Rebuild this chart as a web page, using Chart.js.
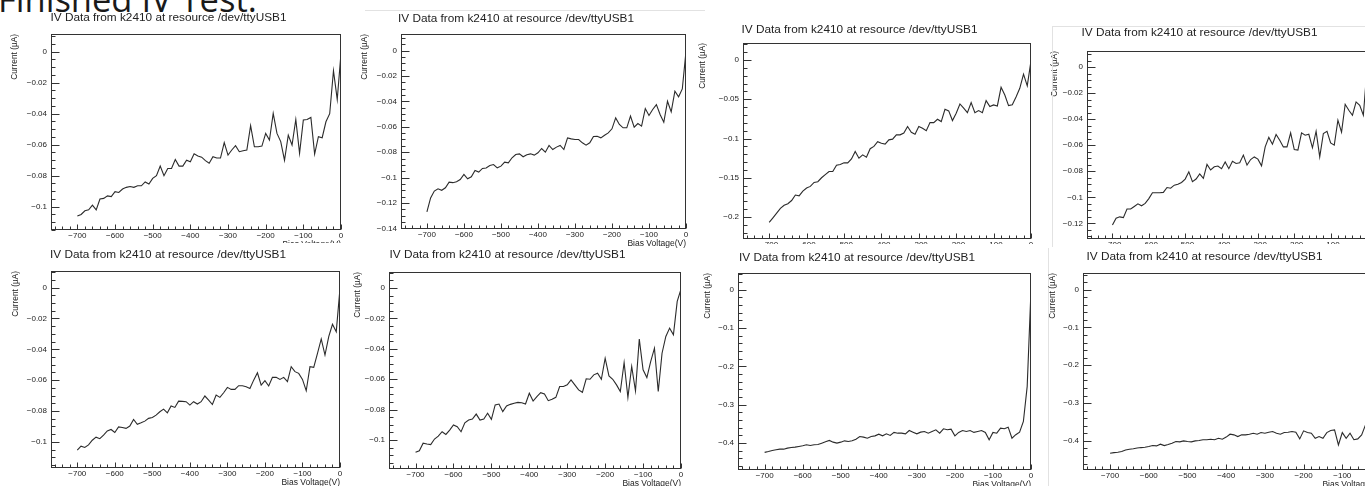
<!DOCTYPE html>
<html>
<head>
<meta charset="utf-8">
<script src="https://cdn.jsdelivr.net/npm/chart.js@4.4.1/dist/chart.umd.min.js"></script>
<style>
  html, body { margin: 0; padding: 0; background: #fff; }
  body { width: 1365px; height: 486px; overflow: hidden; position: relative; }
  canvas { position: absolute; }
  .headline { position: absolute; left: -2px; top: -18px; font-family: "Open Sans", sans-serif; font-size: 34.5px; line-height: 1; color: #1a1a1a; white-space: nowrap; }
  .cover { position: absolute; background: #fff; }
  .tile { position: absolute; border-color: #e2e2e2; border-style: solid; border-width: 0; }
</style>
</head>
<body>
<div class="headline">Finished IV Test.</div>
<script>
// ---------------- DATA ----------------
const plotTitle = "IV Data from k2410 at resource /dev/ttyUSB1";
const xAxisTitle = "Bias Voltage(V)";
const yAxisTitle = "Current (µA)";

const biasVoltage = [-700,-690,-680,-670,-660,-650,-640,-630,-620,-610,-600,-590,-580,-570,-560,-550,-540,-530,-520,-510,-500,-490,-480,-470,-460,-450,-440,-430,-420,-410,-400,-390,-380,-370,-360,-350,-340,-330,-320,-310,-300,-290,-280,-270,-260,-250,-240,-230,-220,-210,-200,-190,-180,-170,-160,-150,-140,-130,-120,-110,-100,-90,-80,-70,-60,-50,-40,-30,-20,-10,0];

const currentRun1 = [-0.106,-0.105,-0.1026,-0.102,-0.099,-0.102,-0.095,-0.0946,-0.093,-0.0935,-0.0903,-0.0908,-0.0886,-0.0875,-0.087,-0.0875,-0.0865,-0.0865,-0.084,-0.0854,-0.0817,-0.080,-0.0738,-0.080,-0.0753,-0.0753,-0.0695,-0.0738,-0.0738,-0.070,-0.071,-0.0658,-0.0673,-0.068,-0.0703,-0.072,-0.0677,-0.0686,-0.0686,-0.0587,-0.0667,-0.0634,-0.0606,-0.0645,-0.0639,-0.0634,-0.0477,-0.0613,-0.0613,-0.0609,-0.0527,-0.057,-0.0398,-0.0527,-0.058,-0.070,-0.0538,-0.0602,-0.0437,-0.0656,-0.0441,-0.0437,-0.0424,-0.066,-0.0548,-0.0555,-0.0452,-0.040,-0.0123,-0.0308,-0.001];

const currentRun2 = [-0.127,-0.116,-0.1106,-0.1088,-0.110,-0.108,-0.1036,-0.104,-0.1033,-0.1015,-0.0975,-0.101,-0.0994,-0.0944,-0.0957,-0.0928,-0.0925,-0.0905,-0.0897,-0.0923,-0.091,-0.0878,-0.0884,-0.0844,-0.0818,-0.0813,-0.0836,-0.082,-0.0813,-0.0823,-0.0805,-0.0771,-0.080,-0.0747,-0.0779,-0.076,-0.0747,-0.0779,-0.0687,-0.0695,-0.070,-0.070,-0.0726,-0.0745,-0.0726,-0.0676,-0.0674,-0.0687,-0.0666,-0.0648,-0.0616,-0.053,-0.0582,-0.0608,-0.0608,-0.0516,-0.0603,-0.0574,-0.0595,-0.0456,-0.0511,-0.0464,-0.0425,-0.0503,-0.0564,-0.0399,-0.0482,-0.032,-0.0364,-0.0302,-0.0005];

const currentRun3 = [-0.2068,-0.201,-0.195,-0.189,-0.185,-0.183,-0.179,-0.172,-0.173,-0.167,-0.163,-0.161,-0.156,-0.155,-0.150,-0.146,-0.142,-0.142,-0.134,-0.133,-0.131,-0.131,-0.126,-0.1165,-0.125,-0.1208,-0.1237,-0.113,-0.110,-0.104,-0.106,-0.107,-0.1017,-0.1008,-0.0953,-0.0953,-0.093,-0.0847,-0.092,-0.0945,-0.0847,-0.0869,-0.090,-0.0797,-0.0797,-0.0754,-0.0784,-0.0627,-0.0648,-0.0771,-0.0678,-0.056,-0.0614,-0.067,-0.0542,-0.067,-0.0644,-0.067,-0.0517,-0.0593,-0.0572,-0.0585,-0.0347,-0.0445,-0.058,-0.057,-0.047,-0.036,-0.018,-0.033,-0.001];

const currentRun4 = [-0.1213,-0.116,-0.115,-0.1156,-0.109,-0.109,-0.107,-0.105,-0.1065,-0.1047,-0.101,-0.0965,-0.0965,-0.0965,-0.0962,-0.0925,-0.093,-0.0907,-0.090,-0.0886,-0.086,-0.0804,-0.088,-0.086,-0.082,-0.0855,-0.0747,-0.079,-0.0766,-0.076,-0.078,-0.0728,-0.078,-0.0723,-0.074,-0.0735,-0.0676,-0.0753,-0.071,-0.069,-0.0707,-0.0758,-0.0613,-0.054,-0.0592,-0.0518,-0.0562,-0.0613,-0.0613,-0.0505,-0.0633,-0.0638,-0.0505,-0.0523,-0.0516,-0.062,-0.0493,-0.069,-0.051,-0.0493,-0.0582,-0.060,-0.0408,-0.050,-0.0286,-0.0332,-0.037,-0.0268,-0.0294,-0.037,-0.001];

const currentRun5 = [-0.1054,-0.1028,-0.1037,-0.102,-0.099,-0.097,-0.098,-0.0957,-0.093,-0.092,-0.094,-0.0903,-0.0907,-0.0913,-0.0898,-0.0855,-0.0887,-0.0877,-0.0866,-0.0848,-0.0842,-0.0827,-0.0805,-0.0788,-0.0812,-0.0768,-0.0777,-0.0736,-0.0738,-0.074,-0.0762,-0.074,-0.0755,-0.074,-0.0703,-0.073,-0.0758,-0.0697,-0.0712,-0.0682,-0.0647,-0.066,-0.066,-0.0636,-0.0636,-0.0643,-0.0654,-0.060,-0.0552,-0.0632,-0.0604,-0.0638,-0.0582,-0.0582,-0.0595,-0.0582,-0.061,-0.0513,-0.0545,-0.0556,-0.0595,-0.0669,-0.0513,-0.0517,-0.0426,-0.0333,-0.0437,-0.0318,-0.0238,-0.0286,-0.0004];

const currentRun6 = [-0.108,-0.107,-0.102,-0.1026,-0.103,-0.0993,-0.0974,-0.0945,-0.0963,-0.0934,-0.090,-0.0912,-0.0945,-0.0886,-0.0868,-0.0862,-0.0829,-0.0868,-0.0862,-0.0824,-0.0864,-0.0769,-0.0763,-0.0813,-0.0776,-0.0765,-0.0758,-0.0752,-0.0754,-0.0763,-0.0692,-0.0743,-0.0714,-0.0688,-0.0697,-0.0741,-0.0732,-0.0719,-0.0648,-0.0648,-0.0637,-0.0604,-0.0637,-0.067,-0.0686,-0.0597,-0.060,-0.0571,-0.056,-0.060,-0.0462,-0.0578,-0.060,-0.0637,-0.0681,-0.049,-0.0719,-0.0516,-0.0677,-0.0336,-0.0538,-0.0589,-0.0484,-0.0396,-0.0681,-0.0429,-0.0319,-0.0264,-0.0308,-0.0088,-0.0007];

const currentRun7 = [-0.424,-0.4217,-0.419,-0.4174,-0.4157,-0.4157,-0.413,-0.4113,-0.4104,-0.4087,-0.407,-0.4043,-0.406,-0.4043,-0.4035,-0.400,-0.3965,-0.393,-0.3974,-0.400,-0.3974,-0.394,-0.3957,-0.394,-0.3896,-0.3826,-0.3843,-0.387,-0.3826,-0.381,-0.3765,-0.381,-0.3757,-0.380,-0.372,-0.374,-0.374,-0.3757,-0.367,-0.3713,-0.3757,-0.3713,-0.3696,-0.374,-0.3696,-0.3652,-0.374,-0.3626,-0.3652,-0.3635,-0.381,-0.372,-0.367,-0.3696,-0.367,-0.372,-0.3696,-0.367,-0.372,-0.3913,-0.372,-0.374,-0.361,-0.3626,-0.3583,-0.387,-0.378,-0.3713,-0.3435,-0.252,0.0];

const currentRun8 = [-0.4327,-0.431,-0.430,-0.428,-0.424,-0.422,-0.421,-0.419,-0.4177,-0.4168,-0.415,-0.4124,-0.4133,-0.4088,-0.4124,-0.4097,-0.406,-0.4018,-0.4027,-0.400,-0.4018,-0.4027,-0.400,-0.399,-0.397,-0.397,-0.3956,-0.397,-0.393,-0.3956,-0.390,-0.3823,-0.384,-0.3885,-0.384,-0.384,-0.3823,-0.3797,-0.3823,-0.378,-0.3797,-0.377,-0.3753,-0.3797,-0.3823,-0.378,-0.377,-0.3753,-0.377,-0.3947,-0.3735,-0.378,-0.3797,-0.393,-0.3885,-0.393,-0.378,-0.3726,-0.371,-0.4106,-0.378,-0.393,-0.3797,-0.397,-0.3947,-0.384,-0.3576,-0.33,-0.26,-0.14,0.0];

const runs = [currentRun1, currentRun2, currentRun3, currentRun4, currentRun5, currentRun6, currentRun7, currentRun8];

// ---------------- LAYOUT (positions / styles) ----------------
// frame: [left, top, right, bottom] in page px; y range; y major/minor step
const panels = [
  { frame: [51, 34, 341, 230],   yMin: -0.115, yMax: 0.0114, yStep: 0.02, yMinor: 0.005, titleGap: 16, yLabelGap: 36 },
  { frame: [401, 34, 686, 229],  yMin: -0.1405, yMax: 0.0131, yStep: 0.02, yMinor: 0.005, titleGap: 15, yLabelGap: 36 },
  { frame: [743, 43, 1031, 239], yMin: -0.228, yMax: 0.0217, yStep: 0.05, yMinor: 0.01, titleGap: 13, yLabelGap: 40 },
  { frame: [1087, 51, 1367, 239], yMin: -0.132, yMax: 0.0123, yStep: 0.02, yMinor: 0.005, titleGap: 18, yLabelGap: 32 },
  { frame: [51, 271, 340, 468],  yMin: -0.117, yMax: 0.0108, yStep: 0.02, yMinor: 0.005, titleGap: 16, yLabelGap: 35 },
  { frame: [389, 272, 681, 469], yMin: -0.119, yMax: 0.0105, yStep: 0.02, yMinor: 0.005, titleGap: 17, yLabelGap: 31 },
  { frame: [738, 273, 1031, 470], yMin: -0.47, yMax: 0.0435, yStep: 0.1, yMinor: 0.02, titleGap: 15, yLabelGap: 30 },
  { frame: [1083, 273, 1381, 470], yMin: -0.477, yMax: 0.044, yStep: 0.1, yMinor: 0.02, titleGap: 16, yLabelGap: 30 }
];

const AXIS_W = 55, TOP_H = 30, BOT_H = 19, X_MIN = -770, X_MAX = 0;
const FONT = '"Liberation Sans", Arial, Helvetica, sans-serif';
const INK = '#222';

function fmtTick(v) {
  const r = Math.round(v * 1e6) / 1e6;
  if (Math.abs(r) < 1e-9) return '0';
  return String(r).replace('-', '\u2212');
}

const frameTicks = {
  id: 'frameTicks',
  afterDraw(chart, args, opts) {
    const { ctx, chartArea: a, scales: { x, y } } = chart;
    ctx.save();
    ctx.strokeStyle = '#333';
    ctx.lineWidth = 1;
    const L = Math.round(a.left) + 0.5, R = Math.round(a.right) - 0.5;
    const T = Math.round(a.top) + 0.5, B = Math.round(a.bottom) - 0.5;
    ctx.strokeRect(L, T, R - L, B - T);
    ctx.beginPath();
    // y ticks (inside, from left edge)
    const k0 = Math.ceil(y.min / opts.yMinor - 1e-6), k1 = Math.floor(y.max / opts.yMinor + 1e-6);
    for (let k = k0; k <= k1; k++) {
      const v = k * opts.yMinor;
      const q = v / opts.yStep;
      const major = Math.abs(q - Math.round(q)) < 1e-6;
      const py = Math.round(y.getPixelForValue(v)) + 0.5;
      ctx.moveTo(L, py); ctx.lineTo(L + (major ? 8 : 4), py);
    }
    // x ticks (inside, from bottom edge)
    const j0 = Math.ceil(x.min / 20), j1 = Math.floor(x.max / 20);
    for (let j = j0; j <= j1; j++) {
      const v = j * 20;
      const major = v % 100 === 0;
      const px = Math.round(x.getPixelForValue(v)) + 0.5;
      ctx.moveTo(px, B); ctx.lineTo(px, B - (major ? 5 : 3));
    }
    ctx.stroke();
    ctx.restore();
  }
};

function addCover(l, t, w, h) {
  const d = document.createElement('div');
  d.className = 'cover';
  Object.assign(d.style, { left: l + 'px', top: t + 'px', width: w + 'px', height: h + 'px' });
  document.body.appendChild(d);
}
function addTile(l, t, w, h, sides) {
  const d = document.createElement('div');
  d.className = 'tile';
  Object.assign(d.style, { left: l + 'px', top: t + 'px', width: w + 'px', height: h + 'px' });
  sides.forEach(s => d.style['border' + s + 'Width'] = '1px');
  document.body.appendChild(d);
}

panels.forEach((p, i) => {
  if (i === 4) { addCover(0, 243, 352, 243); }
  if (i === 6) { addCover(700, 244, 665, 242); addTile(1048, 248, 320, 240, ['Left']); }
  const [fl, ft, fr, fb] = p.frame;
  const cv = document.createElement('canvas');
  const w = (fr - fl) + 2 * AXIS_W;
  const h = (fb - ft) + TOP_H + BOT_H;
  cv.width = w; cv.height = h;
  cv.style.left = (fl - AXIS_W) + 'px';
  cv.style.top = (ft - TOP_H) + 'px';
  cv.style.width = w + 'px'; cv.style.height = h + 'px';
  document.body.appendChild(cv);

  const titleSize = 11.8;
  const padTop = TOP_H - p.titleGap - titleSize / 2;
  const padBot = TOP_H - titleSize - padTop;
  const yTitleSize = 8.3;

  new Chart(cv.getContext('2d'), {
    type: 'line',
    data: {
      datasets: [{
        data: biasVoltage.map((v, k) => ({ x: v, y: runs[i][k] })),
        borderColor: '#2b2b2b',
        borderWidth: 1.1,
        pointRadius: 0,
        tension: 0,
        fill: false
      }]
    },
    options: {
      responsive: false,
      animation: false,
      devicePixelRatio: 1,
      events: [],
      layout: { padding: { left: 0, right: AXIS_W, top: 0, bottom: 0 } },
      plugins: {
        legend: { display: false },
        tooltip: { enabled: false },
        title: {
          display: true, text: plotTitle, color: INK,
          font: { family: FONT, size: titleSize, weight: 'normal', lineHeight: 1 },
          padding: { top: padTop, bottom: padBot }
        },
        frameTicks: { yStep: p.yStep, yMinor: p.yMinor }
      },
      scales: {
        x: {
          type: 'linear', min: X_MIN, max: X_MAX,
          afterFit(s) { s.height = BOT_H; },
          grid: { display: false, drawTicks: false },
          border: { display: false },
          ticks: {
            stepSize: 100, includeBounds: false, autoSkip: false, maxRotation: 0,
            padding: 1, color: INK, font: { family: FONT, size: 8, lineHeight: 1.2 },
            callback: fmtTick
          },
          title: {
            display: true, text: xAxisTitle, align: 'end', color: INK,
            font: { family: FONT, size: 8.5, lineHeight: 1 }, padding: { top: 0, bottom: 0 }
          }
        },
        y: {
          type: 'linear', min: p.yMin, max: p.yMax,
          afterFit(s) { s.width = AXIS_W; },
          grid: { display: false, drawTicks: false },
          border: { display: false },
          ticks: {
            stepSize: p.yStep, includeBounds: false, autoSkip: false,
            padding: 4, color: INK, font: { family: FONT, size: 8, lineHeight: 1.2 },
            callback: fmtTick
          },
          title: {
            display: true, text: yAxisTitle, align: 'end', color: INK,
            font: { family: FONT, size: yTitleSize, lineHeight: 1 },
            padding: { top: AXIS_W - p.yLabelGap - yTitleSize / 2, bottom: 0 }
          }
        }
      }
    },
    plugins: [frameTicks]
  });
});
addTile(365, 10, 340, 1, ['Top']);
addTile(1052, 26, 320, 220, ['Left', 'Top']);
</script>
</body>
</html>
